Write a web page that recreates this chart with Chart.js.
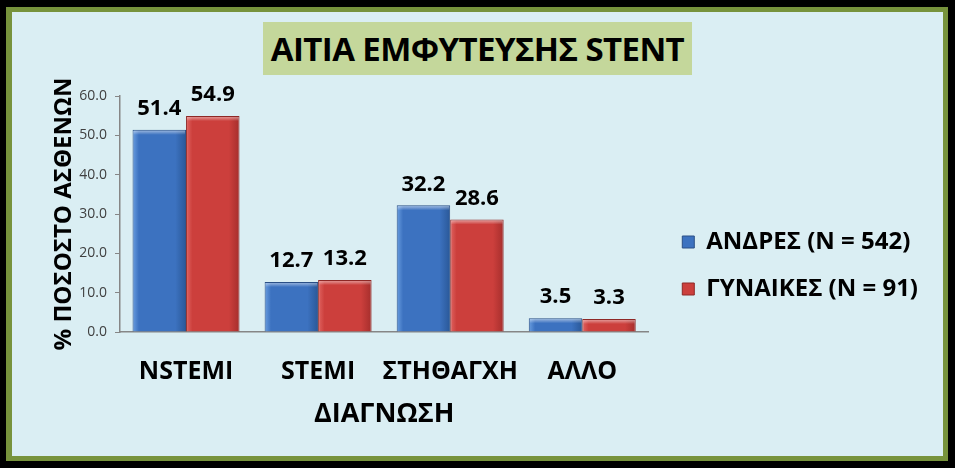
<!DOCTYPE html>
<html>
<head>
<meta charset="utf-8">
<script src="https://cdn.jsdelivr.net/npm/chart.js@4/dist/chart.umd.min.js"></script>
<style>
  html, body { margin: 0; padding: 0; background: #000; }
  #frame { position: relative; width: 955px; height: 468px; background: #000; overflow: hidden; }
  #green { position: absolute; left: 6px; top: 7px; width: 942px; height: 454px; background: #77933C; }
  #panel { position: absolute; left: 12px; top: 12px; width: 931px; height: 444px; background: #DAEEF3; }
  #title {
    position: absolute; left: 251px; top: 10px; width: 429px; height: 53px;
    background: #C4D79B; color: #000;
    font: bold 33px "Open Sans", sans-serif; line-height: 53px; text-align: center;
    letter-spacing: -0.6px; white-space: nowrap;
  }
  canvas { position: absolute; left: 0; top: 0; }
</style>
</head>
<body>
<div id="frame">
  <div id="green"></div>
  <div id="panel">
    <canvas id="chart" width="931" height="444"></canvas>
    <div id="title">ΑΙΤΙΑ ΕΜΦΥΤΕΥΣΗΣ STENT</div>
  </div>
</div>
<script>
// Stent implantation reasons, % of patients

const categories = ['NSTEMI', 'STEMI', 'ΣΤΗΘΑΓΧΗ', 'ΑΛΛΟ'];
const menValues = [51.4, 12.7, 32.2, 3.5];
const womenValues = [54.9, 13.2, 28.6, 3.3];
const seriesNames = ['ΑΝΔΡΕΣ (Ν = 542)', 'ΓΥΝΑΙΚΕΣ (Ν = 91)'];
const yTicks = [0, 10, 20, 30, 40, 50, 60];

const FONT = '"Open Sans", sans-serif';
const BLUE = ['#6A9EE0', '#3C72C0', '#2A5898'];
const RED = ['#E06461', '#CC3F3C', '#A52E2C'];

function shade(c, cols) {
  if (c.type !== 'data') return cols[1];
  const el = c.chart.getDatasetMeta(c.datasetIndex).data[c.dataIndex];
  if (!el || !isFinite(el.x) || !el.width) return cols[1];
  const x0 = el.x - el.width / 2, x1 = el.x + el.width / 2;
  const g = c.chart.ctx.createLinearGradient(x0, 0, x1, 0);
  g.addColorStop(0, cols[0]);
  g.addColorStop(0.12, cols[1]);
  g.addColorStop(0.8, cols[1]);
  g.addColorStop(1, cols[2]);
  return g;
}

// value labels above each bar
const valueLabels = {
  id: 'valueLabels',
  afterDatasetsDraw(chart) {
    const ctx = chart.ctx;
    ctx.save();
    ctx.font = 'bold 22px ' + FONT;
    ctx.fillStyle = '#000';
    ctx.textAlign = 'center';
    ctx.textBaseline = 'bottom';
    chart.data.datasets.forEach((ds, i) => {
      chart.getDatasetMeta(i).data.forEach((bar, j) => {
        ctx.fillText(ds.data[j].toFixed(1), bar.x, bar.y - 10);
      });
    });
    ctx.restore();
  }
};

// light bevel along the top of each bar
const barBevel = {
  id: 'barBevel',
  afterDatasetsDraw(chart) {
    const ctx = chart.ctx;
    ctx.save();
    chart.data.datasets.forEach((ds, i) => {
      chart.getDatasetMeta(i).data.forEach(bar => {
        const x0 = bar.x - bar.width / 2;
        const g = ctx.createLinearGradient(0, bar.y, 0, bar.y + 5);
        g.addColorStop(0, 'rgba(255,255,255,0.55)');
        g.addColorStop(1, 'rgba(255,255,255,0)');
        ctx.fillStyle = g;
        ctx.fillRect(x0 + 1, bar.y + 1, bar.width - 2, 5);
      });
    });
    ctx.restore();
  }
};

// push the legend a little further from the plot
const legendGap = {
  id: 'legendGap',
  afterLayout(chart) {
    if (!chart.legend) return;
    chart.legend.left += 11;
    chart.legend.right += 11;
  }
};

const chart = new Chart(document.getElementById('chart'), {
  type: 'bar',
  data: {
    labels: categories,
    datasets: [
      { label: seriesNames[0], data: menValues, backgroundColor: c => shade(c, BLUE), borderColor: '#2A4F86', borderWidth: 1, legendColor: BLUE[1] },
      { label: seriesNames[1], data: womenValues, backgroundColor: c => shade(c, RED), borderColor: '#8E2826', borderWidth: 1, legendColor: RED[1] },
    ]
  },
  options: {
    responsive: false,
    animation: false,
    layout: { padding: { left: 38, top: 84, right: 26, bottom: 21 } },
    datasets: { bar: { categoryPercentage: 0.81, barPercentage: 1.0 } },
    plugins: {
      title: { display: false },
      tooltip: { enabled: false },
      legend: {
        position: 'right',
        maxWidth: 400,
        labels: {
          color: '#000',
          font: { family: FONT, size: 24, weight: 'bold' },
          boxWidth: 12, boxHeight: 12, padding: 23,
          generateLabels: (ch) => ch.data.datasets.map((ds, i) => ({
            text: ds.label, fillStyle: ds.legendColor, strokeStyle: ds.borderColor,
            lineWidth: 1, datasetIndex: i, hidden: false,
          })),
        }
      }
    },
    scales: {
      x: {
        grid: { drawOnChartArea: false, drawTicks: false },
        border: { display: true, color: '#868686', width: 1.5 },
        ticks: { color: '#000', padding: 25, maxRotation: 0, minRotation: 0, autoSkip: false, font: { family: FONT, size: 25, weight: 'bold' } },
        title: { display: true, text: 'ΔΙΑΓΝΩΣΗ', color: '#000', padding: { top: 4 }, font: { family: FONT, size: 27, weight: 'bold' } },
        afterFit: s => { s.height = 103; },
      },
      y: {
        min: 0, max: 60,
        afterBuildTicks: s => { s.ticks = yTicks.map(v => ({ value: v })); },
        grid: { drawOnChartArea: false, drawTicks: true, tickLength: 5, color: '#868686' },
        border: { display: true, color: '#868686', width: 1.5 },
        ticks: { color: '#404040', padding: 8, font: { family: FONT, size: 14 }, callback: v => Number(v).toFixed(1) },
        title: { display: true, text: '% ΠΟΣΟΣΤΟ ΑΣΘΕΝΩΝ', color: '#000', padding: 0, font: { family: FONT, size: 24, weight: 'bold' } },
        afterFit: s => { s.width = 70; },
      }
    }
  },
  plugins: [barBevel, valueLabels, legendGap]
});
chart.update();
</script>
</body>
</html>
